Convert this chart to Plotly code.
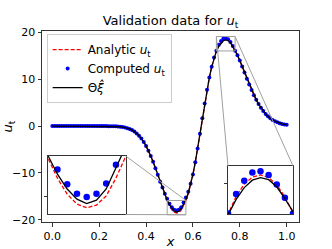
import plotly.graph_objects as go

# ---------------- data ----------------
x_vals = [0.00, 0.01, 0.02, 0.03, 0.04, 0.05, 0.06, 0.07, 0.08, 0.09,
          0.10, 0.11, 0.12, 0.13, 0.14, 0.15, 0.16, 0.17, 0.18, 0.19,
          0.20, 0.21, 0.22, 0.23, 0.24, 0.25, 0.26, 0.27, 0.28, 0.29,
          0.30, 0.31, 0.32, 0.33, 0.34, 0.35, 0.36, 0.37, 0.38, 0.39,
          0.40, 0.41, 0.42, 0.43, 0.44, 0.45, 0.46, 0.47, 0.48, 0.49,
          0.50, 0.51, 0.52, 0.53, 0.54, 0.55, 0.56, 0.57, 0.58, 0.59,
          0.60, 0.61, 0.62, 0.63, 0.64, 0.65, 0.66, 0.67, 0.68, 0.69,
          0.70, 0.71, 0.72, 0.73, 0.74, 0.75, 0.76, 0.77, 0.78, 0.79,
          0.80, 0.81, 0.82, 0.83, 0.84, 0.85, 0.86, 0.87, 0.88, 0.89,
          0.90, 0.91, 0.92, 0.93, 0.94, 0.95, 0.96, 0.97, 0.98, 0.99,
          1.00]

analytic_ut = [0.0, 0.0, 0.0, 0.0, 0.0, 0.0, 0.0, 0.0, 0.0, 0.0,
               0.0, 0.0, 0.0, 0.0, 0.0, 0.0, 0.0, 0.0, 0.0, 0.0,
               0.0, 0.0, -0.01, -0.01, -0.02, -0.03, -0.04, -0.07, -0.10, -0.15,
               -0.22, -0.32, -0.45, -0.63, -0.87, -1.18, -1.57, -2.07, -2.67, -3.40,
               -4.26, -5.26, -6.39, -7.65, -9.00, -10.43, -11.89, -13.34, -14.73, -15.98,
               -17.06, -17.89, -18.41, -18.60, -18.46, -17.98, -17.05, -15.92, -14.45, -12.58,
               -10.33, -7.72, -4.80, -1.65, 1.64, 4.82, 7.75, 10.37, 12.64, 14.54,
               16.05, 17.19, 17.97, 18.41, 18.55, 18.39, 17.93, 17.15, 16.15, 15.19,
               13.98, 12.71, 11.41, 10.12, 8.88, 7.70, 6.60, 5.59, 4.69, 3.89,
               3.19, 2.59, 2.09, 1.66, 1.31, 1.02, 0.79, 0.60, 0.45, 0.34,
               0.25]

computed_ut = [0.0, 0.0, 0.0, 0.0, 0.0, 0.0, 0.0, 0.0, 0.0, 0.0,
               0.0, 0.0, 0.0, 0.0, 0.0, 0.0, 0.0, 0.0, 0.0, 0.0,
               0.0, 0.0, -0.01, -0.01, -0.02, -0.03, -0.04, -0.07, -0.10, -0.15,
               -0.22, -0.32, -0.45, -0.63, -0.87, -1.18, -1.57, -2.07, -2.67, -3.40,
               -4.26, -5.26, -6.39, -7.65, -9.00, -10.43, -11.89, -13.15, -14.45, -15.55,
               -16.61, -17.37, -17.87, -18.04, -17.87, -17.34, -16.36, -15.25, -14.05, -12.35,
               -10.33, -7.72, -4.80, -1.65, 1.64, 4.82, 7.75, 10.37, 12.64, 14.62,
               16.10, 17.34, 18.19, 18.70, 18.78, 18.55, 17.95, 17.10, 16.10, 15.10,
               13.98, 12.71, 11.41, 10.12, 8.88, 7.70, 6.60, 5.59, 4.69, 3.89,
               3.19, 2.59, 2.09, 1.66, 1.31, 1.02, 0.79, 0.60, 0.45, 0.34,
               0.25]

fit_ut = [0.0, 0.0, 0.0, 0.0, 0.0, 0.0, 0.0, 0.0, 0.0, 0.0,
          0.0, 0.0, 0.0, 0.0, 0.0, 0.0, 0.0, 0.0, 0.0, 0.0,
          0.0, 0.0, -0.01, -0.01, -0.02, -0.03, -0.04, -0.07, -0.10, -0.15,
          -0.22, -0.32, -0.45, -0.63, -0.87, -1.18, -1.57, -2.07, -2.67, -3.40,
          -4.26, -5.26, -6.39, -7.65, -9.00, -10.43, -11.89, -13.34, -14.60, -15.85,
          -16.85, -17.62, -18.15, -18.38, -18.20, -17.62, -16.62, -15.70, -14.30, -12.58,
          -10.33, -7.72, -4.80, -1.65, 1.64, 4.82, 7.75, 10.37, 12.64, 14.54,
          16.00, 17.00, 17.75, 18.22, 18.38, 18.25, 17.80, 17.05, 16.05, 15.19,
          13.98, 12.71, 11.41, 10.12, 8.88, 7.70, 6.60, 5.59, 4.69, 3.89,
          3.19, 2.59, 2.09, 1.66, 1.31, 1.02, 0.79, 0.60, 0.45, 0.34,
          0.25]

x_tickvals = [0.0, 0.2, 0.4, 0.6, 0.8, 1.0]
x_ticktext = ["0.0", "0.2", "0.4", "0.6", "0.8", "1.0"]
y_tickvals = [-20, -10, 0, 10, 20]
y_ticktext = ["\u221220", "\u221210", "0", "10", "20"]

# zoom windows (data ranges of the insets)
inset1_x = [0.49, 0.57]
inset1_y = [-18.95, -15.90]
inset2_x = [0.70, 0.78]
inset2_y = [16.04, 19.12]

# ---------------- layout constants ----------------
W, H = 332, 249
ML, MR, MT, MB = 42, 33, 31, 27
main_xr = [-0.044, 1.0525]
main_yr = [-20.5, 20.3]
in1_dx = [0.0222, 0.3257]
in1_dy = [0.0393, 0.3455]
in2_dx = [0.7237, 0.9767]
in2_dy = [0.0393, 0.2932]

FONT = "DejaVu Sans"
FRAME = "#333333"
GRAY = "#a0a0a0"


def px(v):
    return (v - main_xr[0]) / (main_xr[1] - main_xr[0])


def py(v):
    return (v - main_yr[0]) / (main_yr[1] - main_yr[0])


fig = go.Figure()


def add_series(xa, ya, show, msize):
    fig.add_trace(go.Scatter(x=x_vals, y=analytic_ut, mode="lines",
                             line=dict(color="red", width=1.3, dash="4px,2px"),
                             name="Analytic <i>u</i><sub>t</sub>", showlegend=show,
                             xaxis=xa, yaxis=ya))
    fig.add_trace(go.Scatter(x=x_vals, y=computed_ut, mode="markers",
                             marker=dict(color="blue", size=msize),
                             name="Computed <i>u</i><sub>t</sub>", showlegend=show,
                             xaxis=xa, yaxis=ya))
    fig.add_trace(go.Scatter(x=x_vals, y=fit_ut, mode="lines",
                             line=dict(color="black", width=1.3),
                             name="\u0398<i>\u03be\u0302</i>", showlegend=show,
                             xaxis=xa, yaxis=ya))


add_series("x", "y", True, 4)

# inset backgrounds (white) then inset series
for xa, ya, xr, yr in [("x2", "y2", inset1_x, inset1_y), ("x3", "y3", inset2_x, inset2_y)]:
    fig.add_trace(go.Scatter(x=[xr[0], xr[1], xr[1], xr[0], xr[0]],
                             y=[yr[0], yr[0], yr[1], yr[1], yr[0]],
                             fill="toself", fillcolor="white", mode="lines",
                             line=dict(width=0, color="white"), hoverinfo="skip",
                             showlegend=False, xaxis=xa, yaxis=ya))
    add_series(xa, ya, False, 6.5)

axis_common = dict(showgrid=False, zeroline=False, showline=True, mirror=True,
                   linecolor=FRAME, linewidth=1, ticks="outside", ticklen=3.5,
                   tickcolor=FRAME, tickwidth=1, automargin=False)

inset_common = dict(showticklabels=False, showgrid=False, zeroline=False, showline=True,
                    mirror=True, linecolor=FRAME, linewidth=1, automargin=False)

shapes = []
# zoom rectangles on the main axes
for xr, yr in [(inset1_x, inset1_y), (inset2_x, inset2_y)]:
    shapes.append(dict(type="rect", xref="x", yref="y", x0=xr[0], x1=xr[1],
                       y0=yr[0], y1=yr[1], line=dict(color=GRAY, width=1),
                       layer="above"))
# connector lines
conn = [
    (in1_dx[1], in1_dy[1], px(inset1_x[1]), py(inset1_y[1])),
    (in1_dx[1], in1_dy[0], px(inset1_x[1]), py(inset1_y[0])),
    (px(inset2_x[0]), py(inset2_y[1]), in2_dx[0], in2_dy[1]),
    (px(inset2_x[1]), py(inset2_y[1]), in2_dx[1], in2_dy[1]),
]
for a, b, c, d in conn:
    shapes.append(dict(type="line", xref="paper", yref="paper", x0=a, y0=b, x1=c, y1=d,
                       line=dict(color=GRAY, width=1), layer="above"))

fig.update_layout(
    width=W, height=H,
    margin=dict(l=ML, r=MR, t=MT, b=MB, pad=0, autoexpand=False),
    paper_bgcolor="white", plot_bgcolor="white",
    font=dict(family=FONT, size=11, color="black"),
    title=dict(text="Validation data for <i>u</i><sub>t</sub>", x=0.5, xref="paper",
               y=1 - 20.5 / H, yref="container", yanchor="middle", xanchor="center",
               font=dict(size=13, family=FONT, color="black")),
    xaxis=dict(domain=[0, 1], range=main_xr, tickvals=x_tickvals, ticktext=x_ticktext,
               title=dict(text="<i>x</i>", standoff=11, font=dict(size=13)),
               tickfont=dict(size=11), **axis_common),
    yaxis=dict(domain=[0, 1], range=main_yr, tickvals=y_tickvals, ticktext=y_ticktext,
               title=dict(text="<i>u</i><sub>t</sub>", standoff=6, font=dict(size=13)),
               tickfont=dict(size=11), **axis_common),
    xaxis2=dict(domain=in1_dx, anchor="y2", range=inset1_x, ticks="", **inset_common),
    yaxis2=dict(domain=in1_dy, anchor="x2", range=inset1_y, tickvals=[-18],
                ticks="outside", ticklen=3, tickcolor=FRAME, **inset_common),
    xaxis3=dict(domain=in2_dx, anchor="y3", range=inset2_x, ticks="", **inset_common),
    yaxis3=dict(domain=in2_dy, anchor="x3", range=inset2_y, tickvals=[18],
                ticks="outside", ticklen=3, tickcolor=FRAME, **inset_common),
    legend=dict(x=0.018, y=0.984, xanchor="left", yanchor="top",
                bgcolor="rgba(255,255,255,0.85)", bordercolor="#cccccc", borderwidth=1,
                font=dict(size=12, family=FONT), tracegroupgap=0, itemwidth=30),
    shapes=shapes,
    showlegend=True,
)

fig.write_html("out.html", config={"displayModeBar": False},
               post_script="document.body.style.margin='0';document.body.style.padding='0';")
